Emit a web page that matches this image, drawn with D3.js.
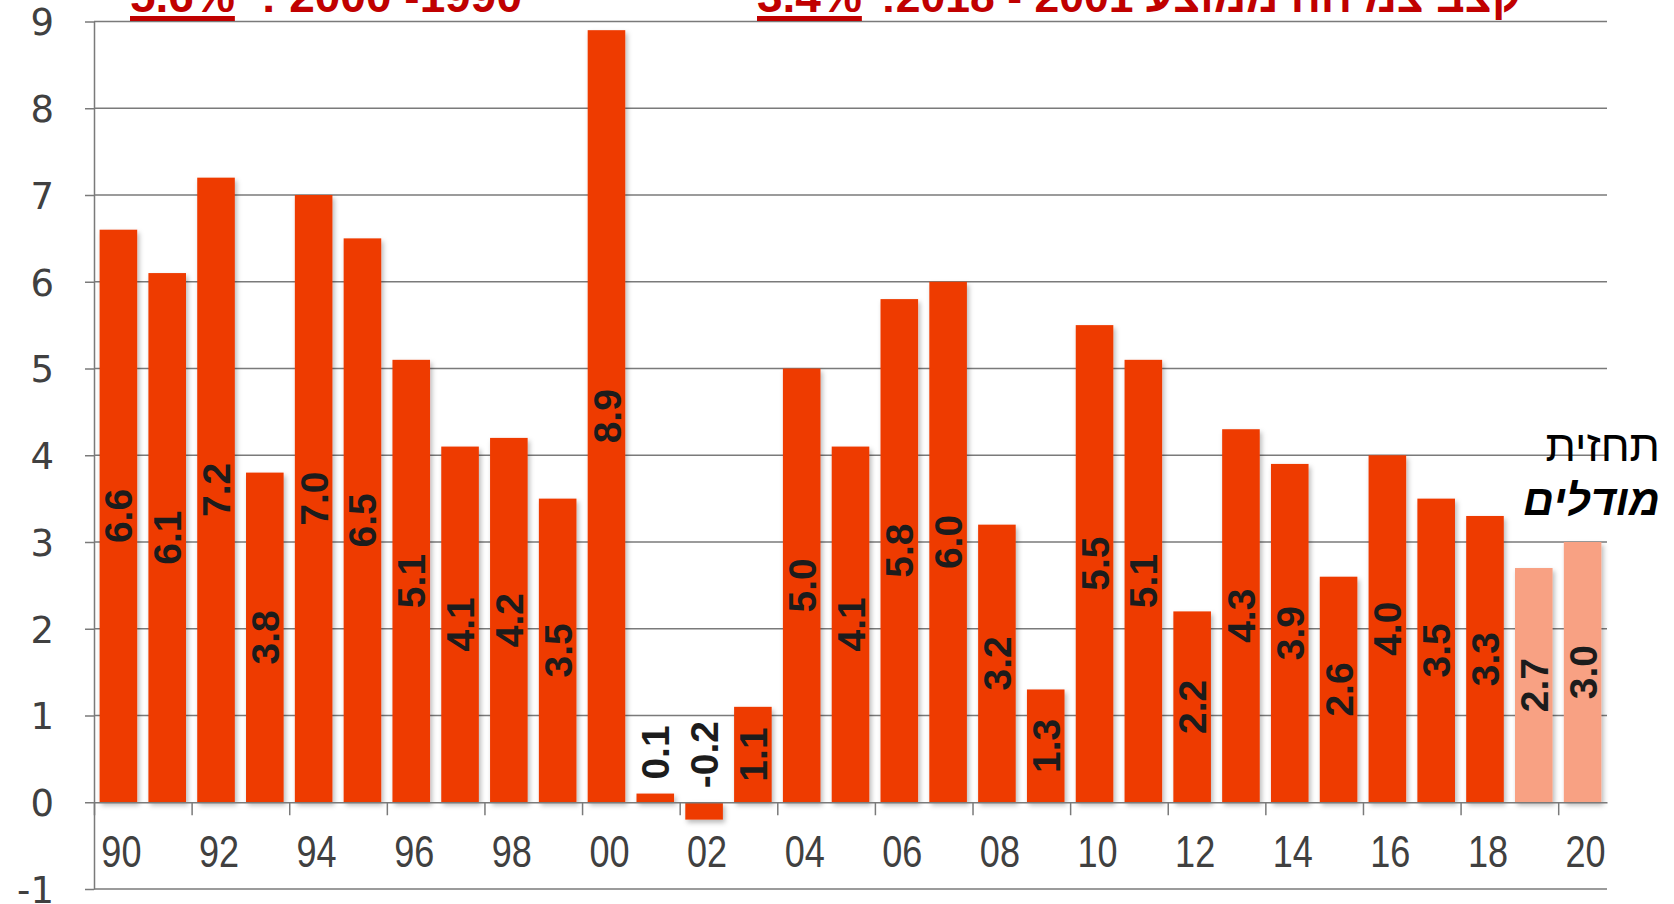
<!DOCTYPE html>
<html><head><meta charset="utf-8">
<script src="https://cdn.jsdelivr.net/npm/d3@7"></script>
<style>
html,body{margin:0;padding:0;background:#fff;overflow:hidden}
svg{display:block}
</style></head>
<body>
<svg id="chart" width="1674" height="904"></svg>
<script>
const years = [1990,1991,1992,1993,1994,1995,1996,1997,1998,1999,2000,2001,2002,2003,2004,2005,2006,2007,2008,2009,2010,2011,2012,2013,2014,2015,2016,2017,2018,2019,2020];
const growth = [6.6,6.1,7.2,3.8,7.0,6.5,5.1,4.1,4.2,3.5,8.9,0.1,-0.2,1.1,5.0,4.1,5.8,6.0,3.2,1.3,5.5,5.1,2.2,4.3,3.9,2.6,4.0,3.5,3.3,2.7,3.0];
const forecastYears = [2019,2020];
const yTicks = [-1,0,1,2,3,4,5,6,7,8,9];
const xTickYears = [1990,1992,1994,1996,1998,2000,2002,2004,2006,2008,2010,2012,2014,2016,2018,2020];
const titleLeftPct = "5.6%";
const titleLeftText = "1990- 2000 :";
const titleRightPct = "3.4%";
const titleRightText = "קצב צמיחה ממוצע 2001 - 2018:";
const noteLine1 = "תחזית";
const noteLine2 = "מודלים";

const svg = d3.select("#chart");
const L = 94, R = 1607, T = 21.5, B = 889;

const y = d3.scaleLinear().domain([-1, 9]).range([B, T]);
const x = d3.scaleBand().domain(years).range([L, R]).paddingInner(0.23).paddingOuter(0.115);
const xb = d3.scaleLinear().domain([years[0], years[years.length-1] + 1]).range([L, R]);

const defs = svg.append("defs");
const f = defs.append("filter").attr("id","sh").attr("x","-20%").attr("y","-5%").attr("width","150%").attr("height","115%");
f.append("feDropShadow").attr("dx",2).attr("dy",3).attr("stdDeviation",2.5).attr("flood-color","#000").attr("flood-opacity",0.28);

// grid / y axis
const yAxis = d3.axisLeft(y).tickValues(yTicks).tickSize(9).tickSizeOuter(0).tickFormat(d=>String(d));
const gy = svg.append("g").attr("transform",`translate(${L},0)`).call(yAxis);
gy.select(".domain").attr("stroke","#7a7a7a").attr("stroke-width",1.5);
gy.selectAll(".tick line").attr("stroke","#7a7a7a").attr("stroke-width",1.5);
gy.selectAll(".tick text").attr("x",-40).attr("fill","#404040")
  .style("font-family","'DejaVu Sans', sans-serif").style("font-size","37px").attr("dy","0.36em");

const grid = svg.append("g");
grid.selectAll("line").data(yTicks.filter(d=>d!==0)).join("line")
  .attr("x1",L).attr("x2",R).attr("y1",d=>y(d)).attr("y2",d=>y(d))
  .attr("stroke","#7a7a7a").attr("stroke-width",1.5);

// bars
const bars = svg.append("g").attr("filter","url(#sh)");
bars.selectAll("rect").data(years).join("rect")
  .attr("x",d=>x(d)).attr("width",x.bandwidth())
  .attr("y",(d,i)=>y(Math.max(0,growth[i])))
  .attr("height",(d,i)=>Math.abs(y(growth[i])-y(0)))
  .attr("fill",d=>forecastYears.includes(d) ? "#F8A183" : "#EE3A04");

// x axis zero line and ticks
const xTickAxis = d3.axisBottom(xb).tickValues(d3.range(years[0], years[years.length-1]+1, 2)).tickSize(13).tickSizeOuter(0).tickFormat("");
const gxt = svg.append("g").attr("transform",`translate(0,${y(0)})`).call(xTickAxis);
gxt.select(".domain").attr("stroke","#7a7a7a").attr("stroke-width",1.5);
gxt.selectAll(".tick line").attr("stroke","#7a7a7a").attr("stroke-width",1.5);

const xAxis = d3.axisBottom(x).tickValues(xTickYears).tickSize(0).tickFormat(d=>String(d).slice(2));
const gx = svg.append("g").attr("transform",`translate(0,${y(0)})`).call(xAxis);
gx.select(".domain").remove();
gx.selectAll(".tick text").attr("y",65).attr("dy",0).attr("fill","#404040")
  .attr("transform","translate(3,0) scale(0.82,1)")
  .style("font-family","'Liberation Sans',Arial,sans-serif").style("font-size","44px");

// value labels
const lab = svg.append("g");
lab.selectAll("text").data(years).join("text")
  .attr("transform",(d,i)=>{
    const v = growth[i];
    const cx = x(d) + x.bandwidth()/2;
    const small = Math.abs(v) < 0.5;
    const cy = small ? y(Math.max(v,0)) - 14 : (y(v)+y(0))/2;
    return `translate(${cx},${cy}) rotate(-90)`;
  })
  .attr("text-anchor",(d,i)=>Math.abs(growth[i])<0.5 ? "start" : "middle")
  .attr("dy","0.36em")
  .attr("fill","#1c1c1c")
  .style("font-family","'Liberation Sans',Arial,sans-serif").style("font-weight","bold").style("font-size","39px")
  .text((d,i)=>growth[i].toFixed(1));

// titles
const tstyle = (s, fs) => s.attr("fill","#C00000").style("font-family","'Liberation Sans',Arial,sans-serif").style("font-weight","bold").style("font-size",fs+"px");
function pct(xpos, txt){
  const t = svg.append("text").attr("x",xpos).attr("y",12).text(txt).call(tstyle, 46);
  const bb = t.node().getBBox();
  svg.append("rect").attr("x",bb.x).attr("width",bb.width).attr("y",16).attr("height",5).attr("fill","#C00000");
}
function rtlText(rightEdge, txt, fs){
  const t = svg.append("text").attr("x",0).attr("y",12).attr("direction","rtl").style("unicode-bidi","embed").text(txt).call(tstyle, fs);
  const bb = t.node().getBBox();
  t.attr("transform",`translate(${rightEdge-(bb.x+bb.width)},0)`);
}
pct(130, titleLeftPct);
rtlText(522, titleLeftText, 46);
pct(757, titleRightPct);
rtlText(1521, titleRightText, 44.5);

// forecast note
svg.append("text").attr("x",1660).attr("y",461).attr("text-anchor","end").attr("fill","#000")
  .style("font-family","'Liberation Sans',Arial,sans-serif").style("font-size","44px").text(noteLine1);
svg.append("text").attr("x",1660).attr("y",515).attr("text-anchor","end").attr("fill","#000")
  .style("font-family","'Liberation Sans',Arial,sans-serif").style("font-size","43px").style("font-weight","bold").style("font-style","italic").text(noteLine2);
</script>
</body></html>
